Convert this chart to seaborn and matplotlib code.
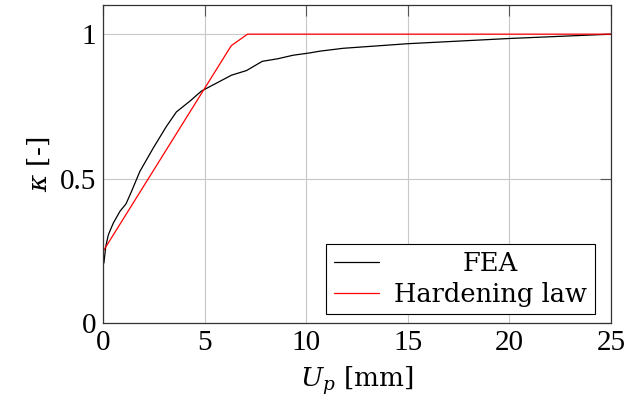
import matplotlib
matplotlib.use("Agg")
import matplotlib.pyplot as plt
from matplotlib.transforms import Affine2D
import seaborn as sns
import pandas as pd

# FEA curve
fea_x = [0.03, 0.12, 0.25, 0.49, 0.82, 1.12, 1.39, 1.80, 2.46, 3.11, 3.6, 4.26, 4.83,
         6.31, 7.05, 7.83, 8.6, 9.34, 10.16, 10.65, 11.8, 15.0, 20.0, 25.0]
fea_y = [0.208, 0.265, 0.306, 0.346, 0.387, 0.413, 0.456, 0.525, 0.606, 0.681, 0.731, 0.768, 0.803,
         0.858, 0.874, 0.906, 0.915, 0.927, 0.935, 0.941, 0.951, 0.967, 0.985, 1.0]
# Hardening law
law_x = [0.0, 6.3, 7.1, 25.0]
law_y = [0.25, 0.96, 1.0, 1.0]

x_ticks = [0, 5, 10, 15, 20, 25]
y_ticks = [0, 0.5, 1]
y_tick_labels = ["0", "0.5", "1"]

sns.set_theme(style="white")
plt.rcParams["font.family"] = ["DejaVu Serif"]
plt.rcParams["mathtext.fontset"] = "dejavuserif"
plt.rcParams["text.color"] = "black"
plt.rcParams["axes.labelcolor"] = "black"
plt.rcParams["xtick.labelcolor"] = "black"
plt.rcParams["ytick.labelcolor"] = "black"

fig = plt.figure(figsize=(6.26, 4.04), dpi=100)
ax = fig.add_axes([0.165, 0.200, 0.811, 0.787])

df_fea = pd.DataFrame({"x": fea_x, "y": fea_y})
df_law = pd.DataFrame({"x": law_x, "y": law_y})
sns.lineplot(data=df_fea, x="x", y="y", color="black", lw=0.9, label="FEA", ax=ax,
             sort=False, estimator=None)
sns.lineplot(data=df_law, x="x", y="y", color="#ff0000", lw=0.9, label="Hardening law", ax=ax,
             sort=False, estimator=None)

ax.set_xlim(0, 25)
ax.set_ylim(0, 1.1)
ax.set_xticks(x_ticks)
ax.set_yticks(y_ticks)
ax.set_yticklabels(y_tick_labels)
ax.grid(True, color="#c8c8c8", lw=0.8)
ax.set_axisbelow(True)
ax.tick_params(direction="in", length=8, width=0.8, color="#555555",
               top=True, right=True, pad=5)
for lab in ax.get_xticklabels() + ax.get_yticklabels():
    lab.set_fontfamily("Liberation Serif")
    lab.set_fontsize(21)
    lab.set_color("black")
for s in ax.spines.values():
    s.set_color("#333333")
    s.set_linewidth(0.9)

ax.set_xlabel("$U_p$ [mm]", fontsize=19, labelpad=6, color="black")
ax.set_ylabel("$\\kappa$ [-]", fontsize=19, labelpad=6, color="black")

leg = ax.legend(loc="lower right", bbox_to_anchor=(0.968, 0.028), fontsize=18.5,
                frameon=True, fancybox=False, edgecolor="black", framealpha=1,
                handlelength=1.75, borderpad=0.3, labelspacing=0.2, handletextpad=0.6,
                borderaxespad=0)
leg.get_frame().set_linewidth(0.8)
for t in leg.get_texts():
    t.set_color("black")

# centre the legend entries like the reference
fig.canvas.draw()
texts = leg.get_texts()
widths = [t.get_window_extent().width for t in texts]
wmax = max(widths)
for t, w in zip(texts, widths):
    dx = (wmax - w) / 2
    if dx > 0:
        t.set_transform(t.get_transform() + Affine2D().translate(dx, 0))

fig.savefig("out.png", dpi=100)
